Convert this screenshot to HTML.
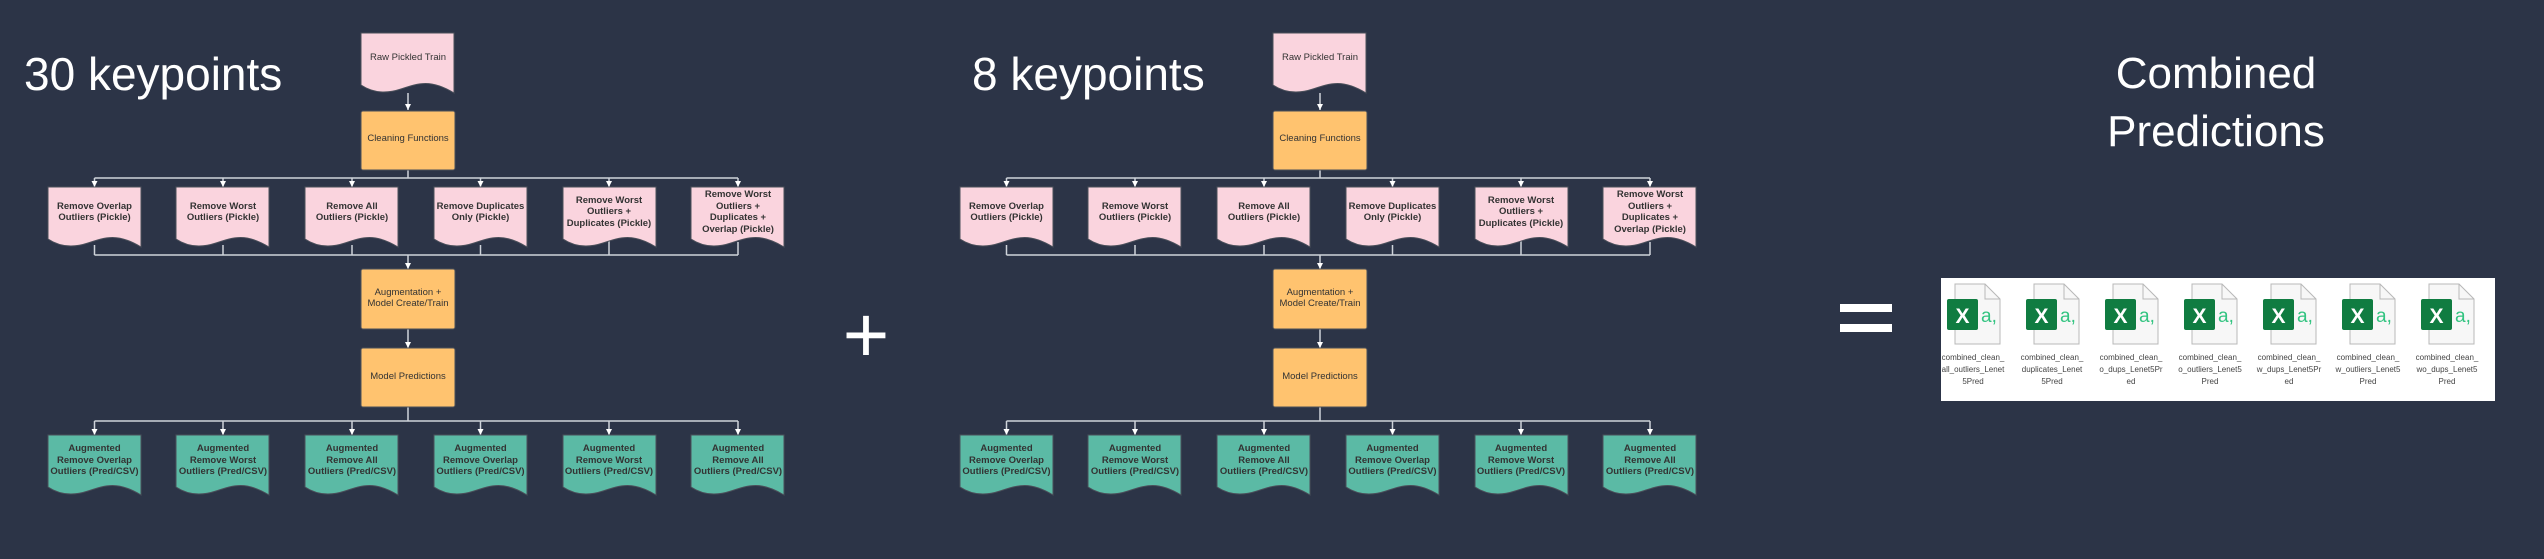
<!DOCTYPE html>
<html><head><meta charset="utf-8"><style>
html,body{margin:0;padding:0;background:#2c3447;}
svg{display:block}
.t{font-family:"Liberation Sans",sans-serif;font-size:9.5px;fill:#333;text-anchor:middle}
.b{font-weight:bold}
.h{font-family:"Liberation Sans",sans-serif;fill:#fff}
.f{font-family:"Liberation Sans",sans-serif;font-size:8px;fill:#444;text-anchor:middle}
</style></head><body>
<svg width="2544" height="559" viewBox="0 0 2544 559" xmlns="http://www.w3.org/2000/svg">
<defs>
<path id="doc" d="M0,0 H93 V60 C70,46 58,50 40,56 C25,61 12,60 0,52 Z"/>
<path id="ar" d="M-3,-6 L3,-6 L0,0 Z" fill="#fff"/>
</defs>
<rect width="2544" height="559" fill="#2c3447"/>
<text class="h" x="24" y="90" font-size="46">30 keypoints</text>
<text class="h" x="972" y="90" font-size="46">8 keypoints</text>
<text class="h" x="2216" y="88" font-size="44" text-anchor="middle">Combined</text>
<text class="h" x="2216" y="146" font-size="44" text-anchor="middle">Predictions</text>
<text class="h" x="866" y="362" font-size="80" text-anchor="middle">+</text>
<rect x="1840" y="304" width="52" height="8" fill="#fff"/>
<rect x="1840" y="324" width="52" height="8" fill="#fff"/>

<g id="d1">
<g stroke="#cfd3da" stroke-width="1.5" fill="none">
<line x1="408" y1="93" x2="408" y2="110"/>
<line x1="408" y1="170" x2="408" y2="178"/>
<line x1="94.5" y1="178" x2="738" y2="178"/>
<line x1="94.5" y1="178" x2="94.5" y2="187"/><line x1="223" y1="178" x2="223" y2="187"/><line x1="352" y1="178" x2="352" y2="187"/><line x1="480.5" y1="178" x2="480.5" y2="187"/><line x1="609" y1="178" x2="609" y2="187"/><line x1="738" y1="178" x2="738" y2="187"/>
<line x1="94.5" y1="245" x2="94.5" y2="255"/><line x1="223" y1="245" x2="223" y2="255"/><line x1="352" y1="245" x2="352" y2="255"/><line x1="480.5" y1="245" x2="480.5" y2="255"/><line x1="609" y1="240" x2="609" y2="255"/><line x1="738" y1="242" x2="738" y2="255"/>
<line x1="94.5" y1="255" x2="738" y2="255"/>
<line x1="408" y1="255" x2="408" y2="269"/>
<line x1="408" y1="329" x2="408" y2="348"/>
<line x1="408" y1="407" x2="408" y2="421"/>
<line x1="94.5" y1="421" x2="738" y2="421"/>
<line x1="94.5" y1="421" x2="94.5" y2="435"/><line x1="223" y1="421" x2="223" y2="435"/><line x1="352" y1="421" x2="352" y2="435"/><line x1="480.5" y1="421" x2="480.5" y2="435"/><line x1="609" y1="421" x2="609" y2="435"/><line x1="738" y1="421" x2="738" y2="435"/>
</g>
<use href="#ar" x="408" y="110"/><use href="#ar" x="408" y="269"/><use href="#ar" x="408" y="348"/>
<use href="#ar" x="94.5" y="187"/><use href="#ar" x="223" y="187"/><use href="#ar" x="352" y="187"/><use href="#ar" x="480.5" y="187"/><use href="#ar" x="609" y="187"/><use href="#ar" x="738" y="187"/>
<use href="#ar" x="94.5" y="435"/><use href="#ar" x="223" y="435"/><use href="#ar" x="352" y="435"/><use href="#ar" x="480.5" y="435"/><use href="#ar" x="609" y="435"/><use href="#ar" x="738" y="435"/>
<g stroke="#4a4f5a" stroke-width="1">
<use href="#doc" x="361" y="33" fill="#fad4de"/>
<rect x="361" y="111" width="94" height="59" rx="2" fill="#ffc36f"/>
<rect x="361" y="269" width="94" height="60" rx="2" fill="#ffc36f"/>
<rect x="361" y="348" width="94" height="59" rx="2" fill="#ffc36f"/>
<use href="#doc" x="48" y="187" fill="#fad4de"/><use href="#doc" x="176" y="187" fill="#fad4de"/><use href="#doc" x="305" y="187" fill="#fad4de"/><use href="#doc" x="434" y="187" fill="#fad4de"/><use href="#doc" x="563" y="187" fill="#fad4de"/><use href="#doc" x="691" y="187" fill="#fad4de"/>
<use href="#doc" x="48" y="435" fill="#5bbaa5"/><use href="#doc" x="176" y="435" fill="#5bbaa5"/><use href="#doc" x="305" y="435" fill="#5bbaa5"/><use href="#doc" x="434" y="435" fill="#5bbaa5"/><use href="#doc" x="563" y="435" fill="#5bbaa5"/><use href="#doc" x="691" y="435" fill="#5bbaa5"/>
</g>
<text class="t" x="408" y="60">Raw Pickled Train</text>
<text class="t" x="408" y="141">Cleaning Functions</text>
<text class="t" x="408" y="295">Augmentation +</text><text class="t" x="408" y="306">Model Create/Train</text>
<text class="t" x="408" y="379">Model Predictions</text>
<g class="t b">
<text x="94.5" y="209">Remove Overlap</text><text x="94.5" y="220">Outliers (Pickle)</text>
<text x="223" y="209">Remove Worst</text><text x="223" y="220">Outliers (Pickle)</text>
<text x="352" y="209">Remove All</text><text x="352" y="220">Outliers (Pickle)</text>
<text x="480.5" y="209">Remove Duplicates</text><text x="480.5" y="220">Only (Pickle)</text>
<text x="609" y="203">Remove Worst</text><text x="609" y="214">Outliers +</text><text x="609" y="226">Duplicates (Pickle)</text>
<text x="738" y="197">Remove Worst</text><text x="738" y="209">Outliers +</text><text x="738" y="220">Duplicates +</text><text x="738" y="232">Overlap (Pickle)</text>
<text x="94.5" y="451">Augmented</text><text x="94.5" y="463">Remove Overlap</text><text x="94.5" y="474">Outliers (Pred/CSV)</text>
<text x="223" y="451">Augmented</text><text x="223" y="463">Remove Worst</text><text x="223" y="474">Outliers (Pred/CSV)</text>
<text x="352" y="451">Augmented</text><text x="352" y="463">Remove All</text><text x="352" y="474">Outliers (Pred/CSV)</text>
<text x="480.5" y="451">Augmented</text><text x="480.5" y="463">Remove Overlap</text><text x="480.5" y="474">Outliers (Pred/CSV)</text>
<text x="609" y="451">Augmented</text><text x="609" y="463">Remove Worst</text><text x="609" y="474">Outliers (Pred/CSV)</text>
<text x="738" y="451">Augmented</text><text x="738" y="463">Remove All</text><text x="738" y="474">Outliers (Pred/CSV)</text>
</g>
</g>

<g transform="translate(912,0)">
<g stroke="#cfd3da" stroke-width="1.5" fill="none">
<line x1="408" y1="93" x2="408" y2="110"/>
<line x1="408" y1="170" x2="408" y2="178"/>
<line x1="94.5" y1="178" x2="738" y2="178"/>
<line x1="94.5" y1="178" x2="94.5" y2="187"/><line x1="223" y1="178" x2="223" y2="187"/><line x1="352" y1="178" x2="352" y2="187"/><line x1="480.5" y1="178" x2="480.5" y2="187"/><line x1="609" y1="178" x2="609" y2="187"/><line x1="738" y1="178" x2="738" y2="187"/>
<line x1="94.5" y1="245" x2="94.5" y2="255"/><line x1="223" y1="245" x2="223" y2="255"/><line x1="352" y1="245" x2="352" y2="255"/><line x1="480.5" y1="245" x2="480.5" y2="255"/><line x1="609" y1="240" x2="609" y2="255"/><line x1="738" y1="242" x2="738" y2="255"/>
<line x1="94.5" y1="255" x2="738" y2="255"/>
<line x1="408" y1="255" x2="408" y2="269"/>
<line x1="408" y1="329" x2="408" y2="348"/>
<line x1="408" y1="407" x2="408" y2="421"/>
<line x1="94.5" y1="421" x2="738" y2="421"/>
<line x1="94.5" y1="421" x2="94.5" y2="435"/><line x1="223" y1="421" x2="223" y2="435"/><line x1="352" y1="421" x2="352" y2="435"/><line x1="480.5" y1="421" x2="480.5" y2="435"/><line x1="609" y1="421" x2="609" y2="435"/><line x1="738" y1="421" x2="738" y2="435"/>
</g>
<use href="#ar" x="408" y="110"/><use href="#ar" x="408" y="269"/><use href="#ar" x="408" y="348"/>
<use href="#ar" x="94.5" y="187"/><use href="#ar" x="223" y="187"/><use href="#ar" x="352" y="187"/><use href="#ar" x="480.5" y="187"/><use href="#ar" x="609" y="187"/><use href="#ar" x="738" y="187"/>
<use href="#ar" x="94.5" y="435"/><use href="#ar" x="223" y="435"/><use href="#ar" x="352" y="435"/><use href="#ar" x="480.5" y="435"/><use href="#ar" x="609" y="435"/><use href="#ar" x="738" y="435"/>
<g stroke="#4a4f5a" stroke-width="1">
<use href="#doc" x="361" y="33" fill="#fad4de"/>
<rect x="361" y="111" width="94" height="59" rx="2" fill="#ffc36f"/>
<rect x="361" y="269" width="94" height="60" rx="2" fill="#ffc36f"/>
<rect x="361" y="348" width="94" height="59" rx="2" fill="#ffc36f"/>
<use href="#doc" x="48" y="187" fill="#fad4de"/><use href="#doc" x="176" y="187" fill="#fad4de"/><use href="#doc" x="305" y="187" fill="#fad4de"/><use href="#doc" x="434" y="187" fill="#fad4de"/><use href="#doc" x="563" y="187" fill="#fad4de"/><use href="#doc" x="691" y="187" fill="#fad4de"/>
<use href="#doc" x="48" y="435" fill="#5bbaa5"/><use href="#doc" x="176" y="435" fill="#5bbaa5"/><use href="#doc" x="305" y="435" fill="#5bbaa5"/><use href="#doc" x="434" y="435" fill="#5bbaa5"/><use href="#doc" x="563" y="435" fill="#5bbaa5"/><use href="#doc" x="691" y="435" fill="#5bbaa5"/>
</g>
<text class="t" x="408" y="60">Raw Pickled Train</text>
<text class="t" x="408" y="141">Cleaning Functions</text>
<text class="t" x="408" y="295">Augmentation +</text><text class="t" x="408" y="306">Model Create/Train</text>
<text class="t" x="408" y="379">Model Predictions</text>
<g class="t b">
<text x="94.5" y="209">Remove Overlap</text><text x="94.5" y="220">Outliers (Pickle)</text>
<text x="223" y="209">Remove Worst</text><text x="223" y="220">Outliers (Pickle)</text>
<text x="352" y="209">Remove All</text><text x="352" y="220">Outliers (Pickle)</text>
<text x="480.5" y="209">Remove Duplicates</text><text x="480.5" y="220">Only (Pickle)</text>
<text x="609" y="203">Remove Worst</text><text x="609" y="214">Outliers +</text><text x="609" y="226">Duplicates (Pickle)</text>
<text x="738" y="197">Remove Worst</text><text x="738" y="209">Outliers +</text><text x="738" y="220">Duplicates +</text><text x="738" y="232">Overlap (Pickle)</text>
<text x="94.5" y="451">Augmented</text><text x="94.5" y="463">Remove Overlap</text><text x="94.5" y="474">Outliers (Pred/CSV)</text>
<text x="223" y="451">Augmented</text><text x="223" y="463">Remove Worst</text><text x="223" y="474">Outliers (Pred/CSV)</text>
<text x="352" y="451">Augmented</text><text x="352" y="463">Remove All</text><text x="352" y="474">Outliers (Pred/CSV)</text>
<text x="480.5" y="451">Augmented</text><text x="480.5" y="463">Remove Overlap</text><text x="480.5" y="474">Outliers (Pred/CSV)</text>
<text x="609" y="451">Augmented</text><text x="609" y="463">Remove Worst</text><text x="609" y="474">Outliers (Pred/CSV)</text>
<text x="738" y="451">Augmented</text><text x="738" y="463">Remove All</text><text x="738" y="474">Outliers (Pred/CSV)</text>
</g>
</g>

<rect x="1941" y="278" width="554" height="123" fill="#fff"/>
<defs>
<g id="xl">
<path d="M8,0 H38 L53,15 V60 H8 Z" fill="#f7f7f7" stroke="#b8b8b8" stroke-width="1"/>
<path d="M38,0 V15 H53" fill="none" stroke="#b8b8b8" stroke-width="1"/>
<rect x="0" y="15" width="31" height="31" rx="2" fill="#107c41"/>
<text x="15.5" y="39" font-family="Liberation Sans,sans-serif" font-weight="bold" font-size="21" fill="#fff" text-anchor="middle">X</text>
<text x="34" y="38" font-family="Liberation Sans,sans-serif" font-size="19" fill="#33c481">a,</text>
</g>
</defs>
<use href="#xl" x="1947" y="284"/><use href="#xl" x="2026" y="284"/><use href="#xl" x="2105" y="284"/><use href="#xl" x="2184" y="284"/><use href="#xl" x="2263" y="284"/><use href="#xl" x="2342" y="284"/><use href="#xl" x="2421" y="284"/>
<g class="f">
<text x="1973" y="360">combined_clean_</text><text x="1973" y="372">all_outliers_Lenet</text><text x="1973" y="384">5Pred</text>
<text x="2052" y="360">combined_clean_</text><text x="2052" y="372">duplicates_Lenet</text><text x="2052" y="384">5Pred</text>
<text x="2131" y="360">combined_clean_</text><text x="2131" y="372">o_dups_Lenet5Pr</text><text x="2131" y="384">ed</text>
<text x="2210" y="360">combined_clean_</text><text x="2210" y="372">o_outliers_Lenet5</text><text x="2210" y="384">Pred</text>
<text x="2289" y="360">combined_clean_</text><text x="2289" y="372">w_dups_Lenet5Pr</text><text x="2289" y="384">ed</text>
<text x="2368" y="360">combined_clean_</text><text x="2368" y="372">w_outliers_Lenet5</text><text x="2368" y="384">Pred</text>
<text x="2447" y="360">combined_clean_</text><text x="2447" y="372">wo_dups_Lenet5</text><text x="2447" y="384">Pred</text>
</g>
</svg>
</body></html>
